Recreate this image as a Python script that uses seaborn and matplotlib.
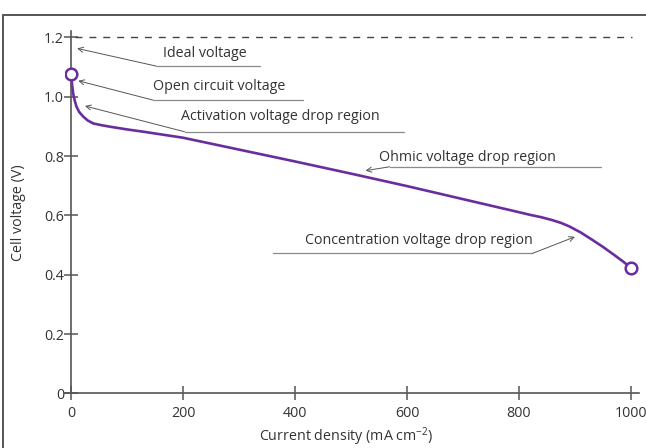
import numpy as np
import matplotlib
matplotlib.use("Agg")
import matplotlib.pyplot as plt
import seaborn as sns
from matplotlib.patches import Rectangle

# polarization curve
current = [0, 2, 4, 7, 10, 15, 22, 30, 40, 55, 70, 100, 130, 200, 300, 400, 500, 600, 700,
           800, 820, 840, 860, 875, 890, 910, 930, 950, 970, 985, 1000]
voltage = [1.076, 1.04, 1.01, 0.985, 0.966, 0.948, 0.933, 0.92, 0.91, 0.904, 0.899, 0.89,
           0.882, 0.862, 0.822, 0.782, 0.741, 0.699, 0.655, 0.611, 0.602, 0.594, 0.584,
           0.575, 0.563, 0.543, 0.519, 0.494, 0.467, 0.446, 0.424]
ideal_voltage = 1.2

x_ticks = [0, 200, 400, 600, 800, 1000]
x_tick_labels = ["0", "200", "400", "600", "800", "1000"]
y_ticks = [0, 0.2, 0.4, 0.6, 0.8, 1.0, 1.2]
y_tick_labels = ["0", "0.2", "0.4", "0.6", "0.8", "1.0", "1.2"]

# label text, text pos, underline (x0, x1, y), arrow start, arrow tip
annotations = [
    ("Ideal voltage", (239, 1.147), (153, 337, 1.103), (153, 1.103), (11, 1.163)),
    ("Open circuit voltage", (264, 1.036), (146, 414, 0.989), (146, 0.989), (13, 1.054)),
    ("Activation voltage drop region", (374, 0.932), (203, 595, 0.882), (203, 0.882), (25, 0.969)),
    ("Ohmic voltage drop region", (708, 0.797), (569, 946, 0.764), (569, 0.764), (526, 0.751)),
    ("Concentration voltage drop region", (622, 0.514), (360, 824, 0.472), (824, 0.472), (900, 0.528)),
]

sns.set_style("white")
plt.rcParams["font.family"] = ["Open Sans", "DejaVu Sans"]
plt.rcParams["mathtext.default"] = "regular"

PURPLE = "#6a2d9e"
AXIS = "#555555"
TEXT = "#333333"

fig = plt.figure(figsize=(6.46, 4.48), dpi=100)
ax = fig.add_axes([0.1012, 0.1217, 0.8885, 0.808])

# figure frame (left and top edges visible in the crop)
fig.patches.append(Rectangle((3 / 646, -0.1), 2.0, 1.1 - 15 / 448, transform=fig.transFigure,
                             fill=False, edgecolor=AXIS, lw=1.4))

ax.hlines(ideal_voltage, 7, 1002, colors="#444444", lw=1.0, linestyles=(0, (5, 5)))

sns.lineplot(x=current, y=voltage, ax=ax, color=PURPLE, lw=1.9, sort=False, estimator=None)
sns.scatterplot(x=[current[0], current[-1]], y=[voltage[0], voltage[-1]], ax=ax, s=70,
                facecolor="white", edgecolor=PURPLE, linewidth=1.8, zorder=5)

for label, tpos, uline, start, tip in annotations:
    ax.text(tpos[0], tpos[1], label, ha="center", va="center", fontsize=10.3, color=TEXT)
    ax.plot([uline[0], uline[1]], [uline[2], uline[2]], color="#8a8a8a", lw=0.9)
    ax.annotate("", xy=tip, xytext=start,
                arrowprops=dict(arrowstyle="->", color="#555555", lw=0.7,
                                shrinkA=0, shrinkB=0, mutation_scale=9))

ax.set_xlim(-10, 1015)
ax.set_ylim(0, 1.22)
ax.spines["left"].set_position(("data", 0))
ax.spines["right"].set_visible(False)
ax.spines["top"].set_visible(False)
for s in ("left", "bottom"):
    ax.spines[s].set_color(AXIS)
    ax.spines[s].set_linewidth(1.2)

ax.set_xticks(x_ticks)
ax.set_xticklabels(x_tick_labels)
ax.set_yticks(y_ticks)
ax.set_yticklabels(y_tick_labels)
ax.tick_params(axis="both", bottom=True, left=True, direction="inout", length=10, width=1.1,
               color=AXIS, labelsize=10.3, labelcolor=TEXT, pad=2)
ax.tick_params(axis="x", pad=4)
ax.tick_params(axis="y", pad=0)

fig.text(346 / 646, 1 - 437 / 448, r"Current density (mA cm$^{-2}$)", ha="center", va="center",
         fontsize=10.3, color=TEXT)
fig.text(19 / 646, 1 - 213 / 448, "Cell voltage (V)", ha="center", va="center",
         rotation=90, fontsize=10.3, color=TEXT)

fig.savefig("out.png", dpi=100)
